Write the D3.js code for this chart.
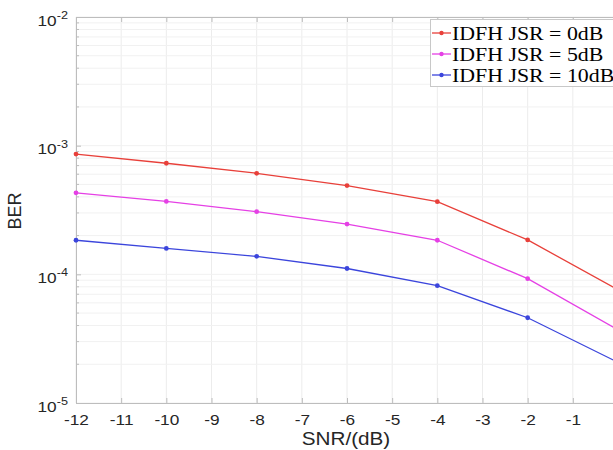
<!DOCTYPE html>
<html lang="en">
<head>
<meta charset="UTF-8">
<title>BER vs SNR</title>
<script src="https://d3js.org/d3.v7.min.js"></script>
<style>
  body { margin: 0; background: #fff; }
  svg { display: block; }
  .tick text { font-family: "Liberation Sans", Arial, sans-serif; font-size: 15px; fill: #262626; }
  .legend text { font-family: "Liberation Serif", "Times New Roman", serif; font-size: 19px; fill: #000; }
  .axlabel { font-family: "Liberation Sans", Arial, sans-serif; font-size: 18px; fill: #262626; }
</style>
</head>
<body>
<svg id="chart" width="613" height="450"></svg>
<script>
const snr = [-12, -10, -8, -6, -4, -2, 0];
const xTicks = [-12, -11, -10, -9, -8, -7, -6, -5, -4, -3, -2, -1, 0];
const yTicks = [1e-5, 1e-4, 1e-3, 1e-2];
const jsr0 = [8.6e-4, 7.3e-4, 6.1e-4, 4.9e-4, 3.67e-4, 1.85e-4, 7.6e-5];
const jsr5 = [4.3e-4, 3.69e-4, 3.07e-4, 2.46e-4, 1.84e-4, 9.25e-5, 3.7e-5];
const jsr10 = [1.84e-4, 1.59e-4, 1.38e-4, 1.11e-4, 8.17e-5, 4.6e-5, 2.07e-5];
const seriesNames = ["IDFH JSR = 0dB", "IDFH JSR = 5dB", "IDFH JSR = 10dB"];
const colors = ["#e8403a", "#e540e5", "#3b45dc"];

const series = [jsr0, jsr5, jsr10].map((vals, i) => ({
    name: seriesNames[i],
    color: colors[i],
    points: vals.map((v, j) => ({ x: snr[j], y: v }))
}));

const margin = { left: 76, top: 17, bottom: 47 };
const W = 613, H = 450;
const plotRight = 618; // plot runs past the visible frame
const stretch = "scale(1.15,1)"; // the source image is a bit wide
const svg = d3.select("#chart");

const x = d3.scaleLinear().domain([-12, 0]).range([margin.left, plotRight]);
const y = d3.scaleLog().domain([1e-5, 1e-2]).range([H - margin.bottom, margin.top]);

// minor log values
const minor = [];
for (let e = -5; e < -2; e++) {
    for (let k = 2; k <= 9; k++) minor.push(k * Math.pow(10, e));
}

// grid
const grid = svg.append("g");
grid.selectAll(".vg").data(xTicks).enter().append("line")
    .attr("x1", d => x(d)).attr("x2", d => x(d))
    .attr("y1", y(1e-5)).attr("y2", y(1e-2))
    .attr("stroke", "#ececec").attr("stroke-width", 1);
grid.selectAll(".hg").data(minor.concat(yTicks)).enter().append("line")
    .attr("x1", margin.left).attr("x2", plotRight)
    .attr("y1", d => y(d)).attr("y2", d => y(d))
    .attr("stroke", "#f1f1f1").attr("stroke-width", 1);

// axes
const xAxis = d3.axisBottom(x).tickValues(xTicks.filter(d => d < 0))
    .tickSizeInner(-5).tickSizeOuter(0).tickPadding(11).tickFormat(d => String(d));
svg.append("g").attr("transform", `translate(0,${y(1e-5)})`).call(xAxis)
    .call(g => g.select(".domain").attr("stroke", "#bdbdbd"))
    .call(g => g.selectAll(".tick line").attr("stroke", "#bdbdbd"))
    .call(g => g.selectAll(".tick text").attr("transform", stretch));

const xTop = d3.axisTop(x).tickValues(xTicks).tickSizeInner(-5).tickSizeOuter(0).tickFormat("");
svg.append("g").attr("transform", `translate(0,${y(1e-2)})`).call(xTop)
    .call(g => g.select(".domain").attr("stroke", "#bdbdbd"))
    .call(g => g.selectAll(".tick line").attr("stroke", "#bdbdbd"));

const yAxis = d3.axisLeft(y).tickValues(yTicks).tickSizeInner(-5).tickSizeOuter(0).tickFormat("");
const yg = svg.append("g").attr("transform", `translate(${margin.left},0)`).call(yAxis)
    .call(g => g.select(".domain").attr("stroke", "#bdbdbd"))
    .call(g => g.selectAll(".tick line").attr("stroke", "#bdbdbd"));
yg.selectAll(".tick").append("text")
    .attr("x", -7).attr("y", 8).attr("text-anchor", "end")
    .attr("transform", stretch)
    .each(function(d) {
        const t = d3.select(this);
        t.append("tspan").text("10");
        t.append("tspan").attr("dy", "-0.6em").style("font-size", "11px").text(Math.round(Math.log10(d)));
    });
// minor ticks
svg.append("g").selectAll("line").data(minor).enter().append("line")
    .attr("x1", margin.left).attr("x2", margin.left + 3)
    .attr("y1", d => y(d)).attr("y2", d => y(d))
    .attr("stroke", "#bdbdbd");

// axis labels
svg.append("g").attr("transform", "translate(346,445)")
    .append("text").attr("class", "axlabel").attr("text-anchor", "middle")
    .attr("transform", stretch).text("SNR/(dB)");
svg.append("text").attr("class", "axlabel").attr("transform", "translate(21,211) rotate(-90)")
    .attr("text-anchor", "middle").text("BER");

// lines
const line = d3.line().x(d => x(d.x)).y(d => y(d.y));
const sg = svg.append("g").selectAll("g").data(series).enter().append("g");
sg.append("path").attr("d", d => line(d.points))
    .attr("fill", "none").attr("stroke", d => d.color).attr("stroke-width", 1.3);
sg.selectAll("circle").data(d => d.points.map(p => ({ ...p, color: d.color }))).enter().append("circle")
    .attr("cx", d => x(d.x)).attr("cy", d => y(d.y)).attr("r", 2.4)
    .attr("fill", d => d.color);

// legend
const lg = svg.append("g").attr("class", "legend");
lg.append("rect").attr("x", 430.5).attr("y", 19.5).attr("width", 184).attr("height", 67)
    .attr("fill", "#fff").attr("stroke", "#c8c8c8");
const item = lg.selectAll(".item").data(series).enter().append("g")
    .attr("transform", (d, i) => `translate(432,${33 + i * 21})`);
item.append("line").attr("x1", 0).attr("x2", 19).attr("stroke", d => d.color).attr("stroke-width", 1.3);
item.append("circle").attr("cx", 9.5).attr("r", 2.2).attr("fill", d => d.color);
item.append("g").attr("transform", "translate(20,0)")
    .append("text").attr("dy", "0.35em").attr("transform", stretch).text(d => d.name);
</script>
</body>
</html>
